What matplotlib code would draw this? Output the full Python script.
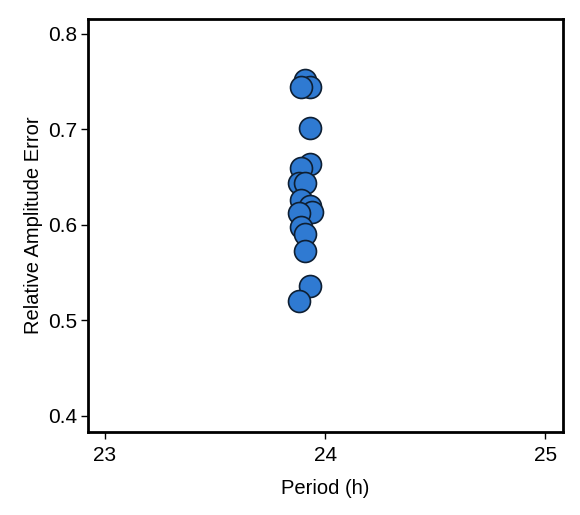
import matplotlib

matplotlib.use("Agg")
import matplotlib.pyplot as plt

# period (h) and relative amplitude error for each sample
period = [23.91, 23.93, 23.89, 23.93, 23.93, 23.89, 23.88, 23.91, 23.89,
          23.93, 23.94, 23.88, 23.89, 23.91, 23.91, 23.93, 23.88]
amp_error = [0.752, 0.744, 0.744, 0.702, 0.664, 0.660, 0.644, 0.644, 0.626,
             0.620, 0.614, 0.612, 0.598, 0.590, 0.573, 0.536, 0.520]

x_ticks = [23, 24, 25]
y_ticks = [0.4, 0.5, 0.6, 0.7, 0.8]

plt.rcParams.update({
    "font.family": ["Liberation Sans", "DejaVu Sans"],
    "font.size": 14,
})

fig = plt.figure(figsize=(5.8, 5.15), dpi=100, facecolor="white")
ax = fig.add_axes([88 / 580, 1 - 432 / 515, (563 - 88) / 580, (432 - 19) / 515])

ax.scatter(period, amp_error, s=250, color="#2f7ad2", edgecolor="#0e1f33",
           linewidth=1.2, zorder=3)

ax.set_xlim(22.923, 25.08)
ax.set_ylim(0.383, 0.8157)
ax.set_xticks(x_ticks)
ax.set_xticklabels([str(t) for t in x_ticks])
ax.set_yticks(y_ticks)
ax.set_yticklabels([f"{t:.1f}" for t in y_ticks])
ax.tick_params(direction="out", length=5, width=1, labelsize=15)
ax.tick_params(axis="y", pad=2.5)
ax.tick_params(axis="x", pad=5)

for spine in ax.spines.values():
    spine.set_linewidth(2)

ax.set_xlabel("Period (h)", fontsize=14.5, labelpad=10)
ax.set_ylabel("Relative Amplitude Error", fontsize=14.5, labelpad=4)

fig.savefig("out.png", dpi=100)
